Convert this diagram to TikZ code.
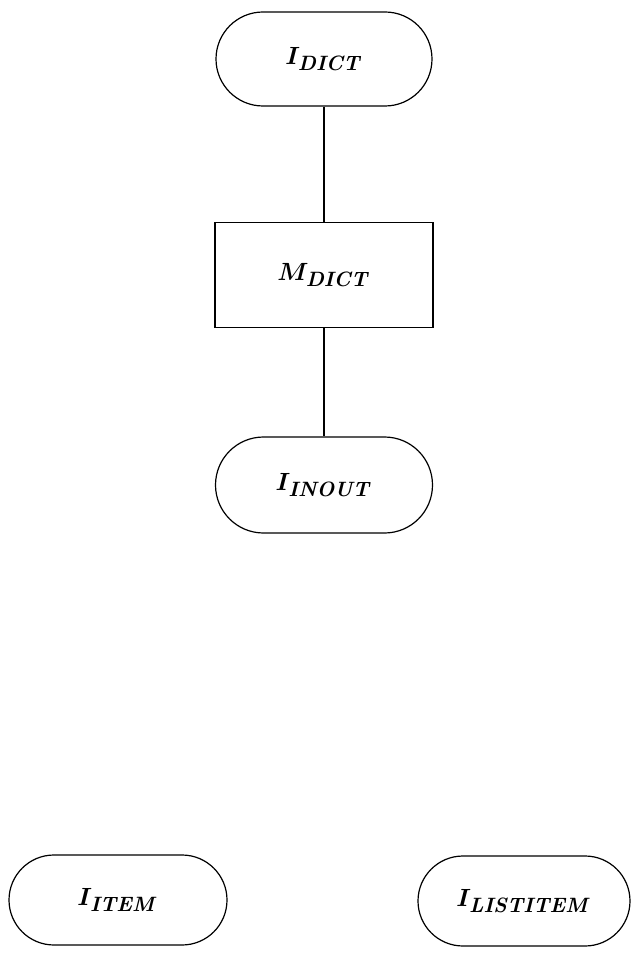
\documentclass[tikz,border=0pt]{standalone}
\usetikzlibrary{shapes.misc}
\tikzset{
  x=1pt,y=1pt,
  base/.style={draw=black, line width=1.2pt, inner sep=0pt, font=\fontsize{31}{34}\selectfont\boldmath},
  instnode/.style={base, rounded rectangle},
  modnode/.style={base, rectangle},
  link/.style={draw=black, line width=1.2pt}
}
\newcommand{\lbl}[2]{$#1_{\mathit{#2}}$}
\begin{document}
\begin{tikzpicture}
\useasboundingbox (0,0) rectangle (631,-965);
\node[instnode, minimum width=216pt, minimum height=94pt] (idict) at (324,-59) {\lbl{I}{DICT}};
\node[modnode, minimum width=218pt, minimum height=105pt] (mdict) at (324,-275) {\lbl{M}{DICT}};
\node[instnode, minimum width=217pt, minimum height=96pt] (iinout) at (324,-485) {\lbl{I}{INOUT}};
\node[instnode, minimum width=218pt, minimum height=90pt] (iitem) at (118,-900) {\lbl{I}{ITEM}};
\node[instnode, minimum width=212pt, minimum height=90pt] (ilist) at (524,-901) {\lbl{I}{LISTITEM}};
\draw[link] (idict.south) -- (mdict.north);
\draw[link] (mdict.south) -- (iinout.north);
\end{tikzpicture}
\end{document}
